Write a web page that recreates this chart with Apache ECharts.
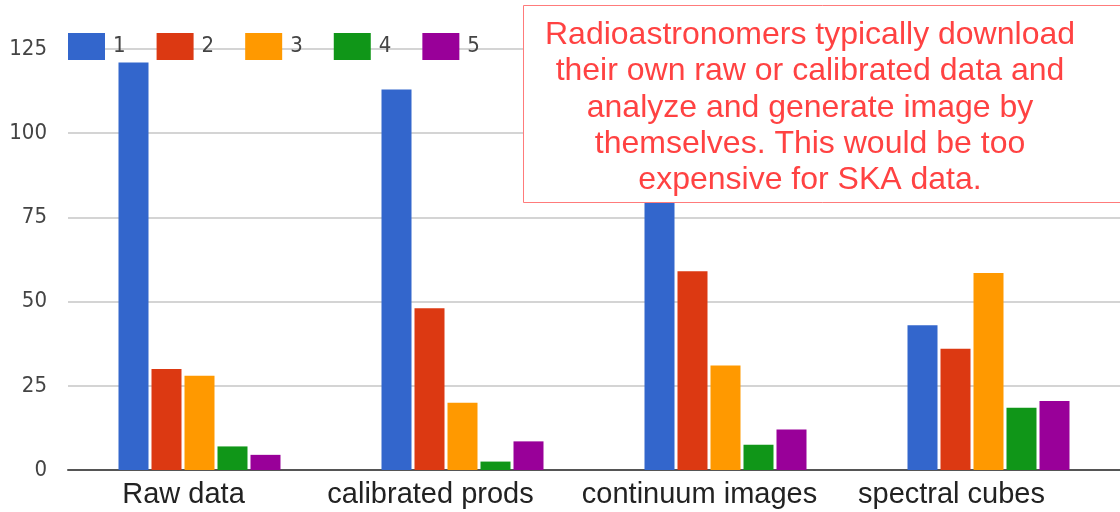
<!DOCTYPE html>
<html>
<head>
<meta charset="utf-8">
<script src="https://cdn.jsdelivr.net/npm/echarts@6/dist/echarts.min.js"></script>
<style>
  html, body { margin: 0; padding: 0; background: #fff; }
  #chart { width: 1120px; height: 512px; }
</style>
</head>
<body>
<div id="chart"></div>
<script>
// data
const categories = ['Raw data', 'calibrated prods', 'continuum images', 'spectral cubes']
const seriesNames = ['1', '2', '3', '4', '5']
const s1 = [121, 113, 88, 43]
const s2 = [30, 48, 59, 36]
const s3 = [28, 20, 31, 58.5]
const s4 = [7, 2.5, 7.5, 18.5]
const s5 = [4.5, 8.5, 12, 20.5]
const yTicks = [0, 25, 50, 75, 100, 125]
const note = 'Radioastronomers typically download\ntheir own raw or calibrated data and\nanalyze and generate image by\nthemselves. This would be too\nexpensive for SKA data.'

const COLORS = ['#3366cc', '#dc3912', '#ff9900', '#109618', '#990099']
const NARROW = "'DejaVu Sans Condensed', 'Liberation Sans Narrow', 'Liberation Sans', sans-serif"
// labels sit a little left of their bar groups in the original
const labelShift = [32, 64, 52, 74]

const myChart = echarts.init(document.getElementById('chart'))

const rich = {}
labelShift.forEach((p, i) => {
  rich['c' + i] = {
    fontFamily: 'Liberation Sans',
    fontSize: 29,
    color: '#222',
    padding: [0, p, 0, 0]
  }
})

const values = [s1, s2, s3, s4, s5]

const option = {
  animation: false,
  color: COLORS,
  legend: {
    data: seriesNames,
    left: 68,
    top: 33,
    padding: 0,
    itemWidth: 37,
    itemHeight: 27,
    itemGap: 31,
    icon: 'rect',
    textStyle: {
      fontFamily: NARROW,
      fontSize: 22,
      color: '#444',
      padding: [0, 0, 0, 3]
    }
  },
  grid: {
    left: 68,
    top: 49,
    width: 1056,
    bottom: 42,
    containLabel: false
  },
  xAxis: {
    type: 'category',
    data: categories,
    axisTick: { show: false },
    axisLine: { lineStyle: { color: '#555', width: 2 } },
    axisLabel: {
      margin: 10,
      formatter: (v, i) => '{c' + i + '|' + v + '}',
      rich: rich
    }
  },
  yAxis: {
    type: 'value',
    min: yTicks[0],
    max: yTicks[yTicks.length - 1],
    interval: 25,
    axisLine: { show: false },
    axisTick: { show: false },
    splitLine: { lineStyle: { color: '#d4d4d4', width: 2 } },
    axisLabel: {
      margin: 21,
      fontFamily: NARROW,
      fontSize: 22,
      color: '#444'
    }
  },
  series: seriesNames.map((name, i) => ({
    name: name,
    type: 'bar',
    data: values[i],
    barWidth: 30,
    barGap: '10%'
  })),
  graphic: [
    {
      type: 'rect',
      z: 100,
      shape: { x: 523.5, y: 5.5, width: 620, height: 197 },
      style: { fill: '#fff', stroke: '#ff7b7b', lineWidth: 1 }
    },
    {
      type: 'text',
      z: 101,
      x: 810,
      y: 17,
      style: {
        text: note,
        fontFamily: 'Liberation Sans',
        fontSize: 32,
        lineHeight: 36.3,
        fill: '#ff4242',
        align: 'center',
        verticalAlign: 'top'
      }
    }
  ]
}

myChart.setOption(option)
</script>
</body>
</html>
